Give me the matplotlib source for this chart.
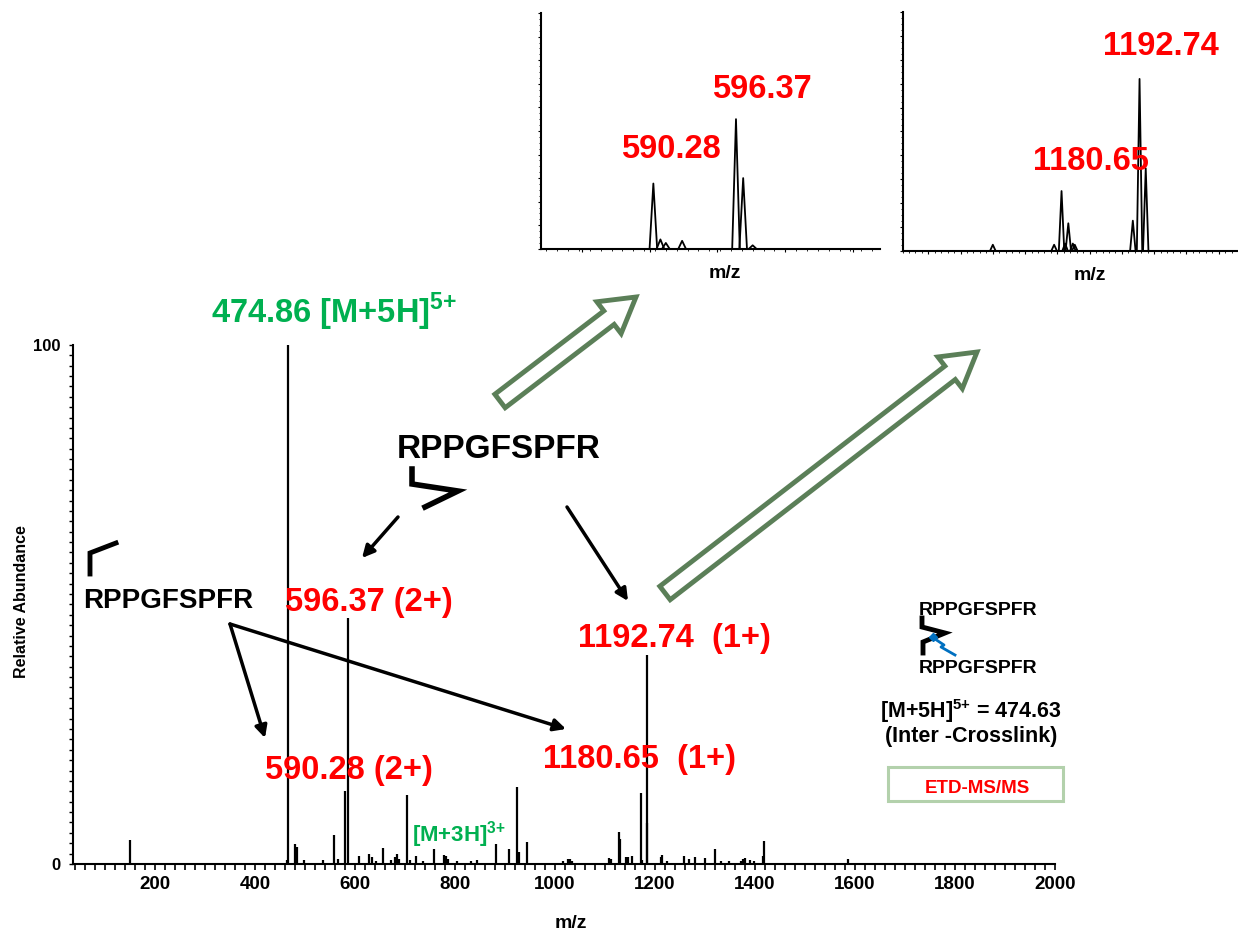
import matplotlib
matplotlib.use('Agg')
import matplotlib.pyplot as plt
from matplotlib.patches import FancyArrow, Rectangle
from matplotlib.ticker import MultipleLocator, FixedLocator

plt.rcParams['font.family'] = ['Liberation Sans', 'DejaVu Sans']
plt.rcParams['font.weight'] = 'bold'
plt.rcParams['mathtext.fontset'] = 'custom'
plt.rcParams['mathtext.rm'] = 'Liberation Sans:bold'
plt.rcParams['mathtext.bf'] = 'Liberation Sans:bold'

# main ETD spectrum, centroid sticks (m/z, relative abundance)
mz_main = [150, 464.5, 466, 480, 484.6, 498.5, 536, 558, 565.6, 580, 586.7,
           608, 628, 635, 643, 655.7, 672, 680, 684, 688, 703.5, 711, 722,
           737, 758.8, 779, 782, 786, 805, 832, 844, 882, 908, 924.4, 928,
           943.9, 1015.5, 1026, 1030, 1035, 1107.8, 1112, 1127.4, 1129.5,
           1143, 1146, 1155, 1171.5, 1174, 1183.7, 1185, 1212, 1215, 1225,
           1258, 1269, 1281, 1300, 1319.8, 1333, 1349, 1372, 1377, 1381,
           1390, 1399, 1416, 1418, 1587]
int_main = [4.6, 0.8, 100, 3.8, 3.3, 0.8, 0.8, 5.6, 0.9, 14.1, 47.4,
            1.6, 1.9, 1.3, 0.6, 3.1, 0.8, 1.3, 1.9, 1.0, 13.2, 0.8, 1.5,
            0.6, 2.8, 1.8, 1.6, 1.0, 0.6, 0.5, 0.8, 3.8, 2.8, 14.9, 2.4,
            4.3, 0.6, 0.9, 1.0, 0.6, 1.2, 0.9, 6.2, 4.8,
            1.4, 1.3, 1.6, 13.6, 0.7, 40.3, 7.8, 1.3, 1.7, 0.6,
            1.5, 0.9, 1.3, 1.2, 2.8, 0.5, 0.6, 0.6, 1.0, 1.2,
            0.8, 0.6, 1.6, 4.4, 1.0]

# zoomed profile insets (peak centre, height)
mz_in1 = [590.28, 590.8, 591.2, 592.4, 596.37, 596.9, 597.6]
int_in1 = [27.7, 4.0, 2.5, 3.4, 55, 30, 1.5]
mz_in2 = [1170, 1179.5, 1180.65, 1181.2, 1181.7, 1182.4, 1182.7,
          1191.7, 1192.74, 1193.7]
int_in2 = [2.5, 2.5, 25, 3, 11.5, 3, 2.5, 12.6, 72, 34.5]

fig = plt.figure(figsize=(12.38, 9.32), dpi=100)

ax = fig.add_axes([0.059, 0.073, 0.793, 0.557])
ax.vlines(mz_main, 0, int_main, colors='black', lw=1.6)
ax.set_xlim(36, 2000)
ax.set_ylim(0, 100)
for s in ['top', 'right']:
    ax.spines[s].set_visible(False)
for s in ['left', 'bottom']:
    ax.spines[s].set_linewidth(1.5)
ax.xaxis.set_major_locator(FixedLocator(range(200, 2001, 200)))
ax.xaxis.set_minor_locator(MultipleLocator(20))
ax.yaxis.set_major_locator(FixedLocator([0, 100]))
ax.yaxis.set_minor_locator(MultipleLocator(2))
ax.tick_params(axis='x', which='both', direction='out', length=4, width=1.2,
               labelsize=13.5, pad=5)
ax.tick_params(axis='y', which='both', direction='out', length=3, width=1,
               labelsize=12, pad=6)


def profile(a, centres, heights, hw):
    for c, h in zip(centres, heights):
        a.plot([c - hw, c, c + hw], [0, h, 0], color='black', lw=1.3)


def inset(rect, centres, heights, xlim, hw, xmaj, xmin):
    a = fig.add_axes(rect)
    profile(a, centres, heights, hw)
    a.set_xlim(*xlim)
    a.set_ylim(0, 100)
    for s in ['top', 'right']:
        a.spines[s].set_visible(False)
    for s in ['left', 'bottom']:
        a.spines[s].set_linewidth(1.5)
    a.xaxis.set_major_locator(MultipleLocator(xmaj))
    a.xaxis.set_minor_locator(MultipleLocator(xmin))
    a.yaxis.set_major_locator(MultipleLocator(10))
    a.yaxis.set_minor_locator(MultipleLocator(2.5))
    a.tick_params(which='major', direction='out', length=2.5, width=0.8,
                  labelbottom=False, labelleft=False)
    a.tick_params(which='minor', direction='out', length=1.5, width=0.6)
    return a


in1 = inset([0.437, 0.733, 0.274, 0.253], mz_in1, int_in1, (582, 607), 0.28, 5, 0.8)
in2 = inset([0.729, 0.731, 0.271, 0.256], mz_in2, int_in2, (1156, 1208), 0.42, 5, 1)

# overlay in pixel coordinates for annotations
ov = fig.add_axes([0, 0, 1, 1])
ov.set_xlim(0, 1238)
ov.set_ylim(932, 0)
ov.axis('off')

red = '#FF0000'
green = '#00B050'
big = 23.5

ov.text(211, 323, r'474.86 [M+5H]$^{\mathbf{5{+}}}$', color=green, fontsize=big,
        va='baseline')
ov.text(412, 842, r'[M+3H]$^{\mathbf{3{+}}}$', color=green, fontsize=16, va='baseline')

ov.text(397, 458, 'RPPGFSPFR', fontsize=24, va='baseline')
ov.text(83, 608, 'RPPGFSPFR', fontsize=20, va='baseline')

ov.text(285, 611, '596.37 (2+)', color=red, fontsize=big, va='baseline')
ov.text(578, 647, '1192.74  (1+)', color=red, fontsize=big, va='baseline')
ov.text(265, 779, '590.28 (2+)', color=red, fontsize=big, va='baseline')
ov.text(543, 768, '1180.65  (1+)', color=red, fontsize=big, va='baseline')

ov.text(712, 98, '596.37', color=red, fontsize=big, va='baseline')
ov.text(621, 158, '590.28', color=red, fontsize=big, va='baseline')
ov.text(1103, 55, '1192.74', color=red, fontsize=big, va='baseline')
ov.text(1033, 170, '1180.65', color=red, fontsize=big, va='baseline')

ov.text(725, 278, 'm/z', fontsize=14, ha='center', va='baseline')
ov.text(1090, 280, 'm/z', fontsize=14, ha='center', va='baseline')
ov.text(571, 928, 'm/z', fontsize=14, ha='center', va='baseline')
ov.text(22, 602, 'Relative Abundance', fontsize=11.5, rotation=90,
        ha='center', va='center')

# crosslinked peptide legend
ov.text(919, 615, 'RPPGFSPFR', fontsize=14, va='baseline')
ov.text(919, 673, 'RPPGFSPFR', fontsize=14, va='baseline')
ov.plot([922, 922, 945, 923, 923], [618, 627, 633, 642, 653], color='black',
        lw=3.5, solid_joinstyle='miter')
ov.plot([932, 944, 941, 955], [637, 645, 647, 655], color='#0070C0', lw=2)
ov.plot([933], [637], marker='D', color='#0070C0', ms=4)
ov.text(971, 718, r'[M+5H]$^{\mathbf{5{+}}}$ = 474.63', fontsize=15.5,
        ha='center', va='baseline')
ov.text(971, 742, '(Inter -Crosslink)', fontsize=15.5, ha='center', va='baseline')
ov.add_patch(Rectangle((888, 767), 175, 34, fill=False, ec='#B3D1AC', lw=2.2))
ov.text(977, 793, 'ETD-MS/MS', color=red, fontsize=13.5,
        ha='center', va='baseline')

# crosslink glyphs
ov.plot([90, 90, 116], [574, 553, 543], color='black', lw=3.5,
        solid_joinstyle='miter')
ov.plot([412, 412, 458, 425], [469, 484, 491, 507], color='black', lw=4,
        solid_joinstyle='miter')

# fragment arrows
for tail, tip in [((398, 517), (362, 558)), ((567, 507), (628, 601)),
                  ((230, 624), (265, 738)), ((230, 624), (566, 729))]:
    ov.annotate('', xy=tip, xytext=tail,
                arrowprops=dict(arrowstyle='-|>', lw=2.5, color='black',
                                mutation_scale=18, shrinkA=0, shrinkB=0))

# block arrows towards the zoomed insets
for (x0, y0), (x1, y1) in [((500, 401), (636, 297)), ((665, 593), (977, 352))]:
    ov.add_patch(FancyArrow(x0, y0, x1 - x0, y1 - y0, width=17, head_width=40,
                            head_length=34, length_includes_head=True,
                            fill=False, ec='#5B7F58', lw=3.5))

fig.savefig('out.png', dpi=100)
